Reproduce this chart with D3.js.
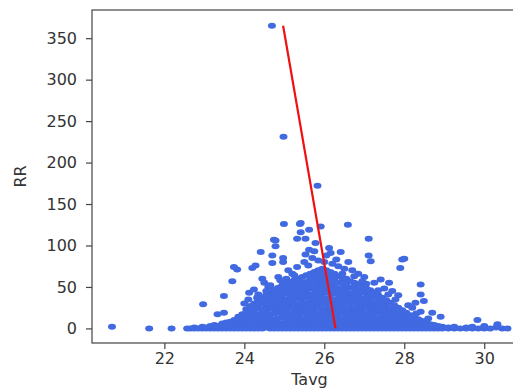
<!DOCTYPE html>
<html>
<head>
<meta charset="utf-8">
<script src="https://cdn.jsdelivr.net/npm/d3@7"></script>
<style>
  body { margin: 0; background: #fff; }
  svg { display: block; }
  text { font-family: "DejaVu Sans", sans-serif; }
</style>
</head>
<body>
<svg id="chart" width="513" height="390"></svg>
<script>
// tick labels
const xTicks = [22, 24, 26, 28, 30];
const yTicks = [0, 50, 100, 150, 200, 250, 300, 350];

// dense part of the cloud, read column by column (Tavg -> RR values)
const colTavg = [22.65, 22.75, 22.85, 22.95, 23.05, 23.15, 23.25, 23.35, 23.45, 23.55,
  23.65, 23.75, 23.85, 23.95, 24.05, 24.15, 24.25, 24.35, 24.45, 24.55,
  24.65, 24.75, 24.85, 24.95, 25.05, 25.15, 25.25, 25.35, 25.45, 25.55,
  25.65, 25.75, 25.85, 25.95, 26.05, 26.15, 26.25, 26.35, 26.45, 26.55,
  26.65, 26.75, 26.85, 26.95, 27.05, 27.15, 27.25, 27.35, 27.45, 27.55,
  27.65, 27.75, 27.85, 27.95, 28.05, 28.15, 28.25, 28.35, 28.45, 28.55,
  28.65, 28.75, 28.85, 28.95, 29.1, 29.25, 29.4, 29.55, 29.7, 29.85,
  30.0, 30.15, 30.3, 30.45];
const colRR = [
  [0], [0, 1], [0], [0, 2], [0, 1], [0, 3], [0, 2, 4], [0, 3], [0, 2, 6], [0, 4, 7],
  [0, 3, 8], [0, 5, 10], [0, 4, 9, 14], [0, 5, 11, 17], [0, 6, 12, 19, 23],
  [0, 5, 11, 16, 22, 27], [0, 6, 13, 18, 24, 30], [0, 5, 11, 17, 24, 29, 34],
  [0, 6, 12, 18, 23, 30, 37], [1, 7, 13, 19, 25, 31, 36, 41],
  [0, 6, 12, 17, 24, 29, 35, 40, 45], [0, 5, 11, 18, 24, 30, 36, 42, 47],
  [0, 6, 12, 19, 25, 31, 37, 43, 49], [0, 6, 13, 18, 24, 30, 36, 41, 47, 52],
  [0, 5, 11, 17, 23, 29, 35, 42, 48, 54], [0, 6, 12, 18, 25, 31, 37, 43, 49, 56],
  [0, 6, 12, 18, 24, 30, 36, 42, 48, 53, 58], [0, 5, 11, 17, 23, 29, 36, 42, 48, 54, 60],
  [0, 6, 12, 19, 25, 31, 37, 43, 49, 55, 62], [0, 6, 12, 18, 24, 30, 37, 43, 49, 56, 64],
  [0, 5, 11, 17, 23, 29, 35, 41, 48, 54, 60, 66], [0, 6, 12, 18, 24, 30, 36, 42, 48, 55, 61, 68],
  [0, 6, 12, 18, 25, 31, 37, 43, 50, 56, 63, 70], [0, 5, 11, 17, 23, 30, 36, 42, 48, 54, 60, 66, 72],
  [0, 6, 12, 18, 24, 30, 36, 43, 49, 55, 62, 70], [0, 6, 12, 18, 24, 31, 37, 43, 49, 56, 62, 68],
  [0, 5, 11, 17, 23, 29, 35, 42, 48, 54, 60, 66], [0, 6, 12, 18, 24, 30, 36, 42, 48, 55, 63],
  [0, 6, 12, 19, 25, 31, 37, 43, 49, 56, 61], [0, 5, 11, 17, 23, 30, 36, 42, 48, 54, 60],
  [0, 6, 12, 18, 24, 30, 36, 42, 49, 57], [0, 6, 12, 18, 24, 31, 37, 43, 49, 55],
  [0, 5, 11, 17, 23, 29, 35, 41, 47, 53], [0, 6, 12, 18, 24, 30, 36, 43, 50],
  [0, 6, 12, 18, 25, 31, 37, 43, 48], [0, 5, 11, 17, 23, 29, 35, 41, 46],
  [0, 6, 12, 18, 24, 30, 37, 43], [0, 6, 12, 19, 25, 31, 36, 40],
  [0, 5, 11, 17, 23, 29, 33, 37], [0, 6, 12, 18, 24, 30, 34],
  [0, 6, 12, 18, 24, 31], [0, 5, 11, 17, 23, 28], [0, 6, 12, 18, 25], [0, 6, 12, 17, 22],
  [0, 5, 11, 15, 19], [0, 6, 11, 16], [0, 5, 9, 13], [0, 5, 11], [0, 4, 9], [0, 4, 7],
  [0, 3, 5], [0, 2, 4], [0, 3], [0, 2], [0, 1], [0, 2], [0], [0, 1], [0, 2], [0],
  [0, 3], [0], [1], [0]
];

// scattered points outside the dense cloud
const outTavg = [20.69, 21.62, 22.18, 22.57, 24.69, 24.98, 25.83,
  24.99, 25.39, 24.78, 24.78, 24.41, 24.70, 24.70, 24.97, 24.97, 25.32, 23.74, 23.82,
  24.20, 24.28, 23.70, 24.45, 24.50, 23.49, 22.97, 23.33, 23.49, 24.12, 24.24, 24.32,
  25.41, 25.62, 25.53, 25.41, 25.91, 26.59, 27.11, 25.62, 25.53, 25.78, 26.12, 26.16,
  26.41, 27.11, 27.16, 25.32, 27.90, 27.41, 27.62, 28.00, 27.95, 28.41, 28.41, 28.28,
  28.49, 27.78, 28.41, 28.70, 28.91, 29.83, 30.33, 30.58,
  24.00, 24.10, 24.60, 24.55, 24.85, 25.10, 25.20, 25.05, 25.50, 25.60, 25.70, 25.85,
  26.00, 26.20, 26.35, 26.50, 26.70, 26.85, 27.00, 27.25, 27.50, 27.70, 27.85, 28.10,
  28.20, 26.05, 26.30, 25.75, 26.60, 24.74,
  26.45, 26.75, 26.95, 27.05, 27.35, 27.60, 24.35, 24.65, 24.90, 25.25, 28.30, 28.60];
const outRR = [2, 0, 0, 0, 365, 231, 172,
  126, 126, 106, 99, 92, 88, 79, 85, 80, 108, 74, 71,
  73, 76, 57, 60, 55, 39, 29, 17, 19, 43, 47, 37,
  127, 119, 108, 116, 123, 125, 108, 95, 89, 103, 97, 91,
  92, 88, 81, 74, 73, 59, 55, 84, 83, 53, 41, 31,
  33, 35, 20, 19, 14, 10, 5, 0,
  30, 35, 50, 45, 62, 70, 66, 60, 80, 76, 85, 82,
  80, 78, 75, 72, 70, 66, 62, 55, 48, 45, 40, 28,
  25, 88, 83, 93, 80, 107,
  66, 63, 57, 54, 46, 41, 41, 52, 58, 64, 18, 12];

// fitted red line end points
const lineTavg = [24.97, 26.28];
const lineRR = [365, 0];

const svg = d3.select("#chart");

const x = d3.scaleLinear().domain([20.19, 31.07]).range([92, 527]);
const y = d3.scaleLinear().domain([-17.6, 384]).range([343, 10]);

// gather points
const pts = [];
colTavg.forEach((t, i) => colRR[i].forEach(r => pts.push([t, r])));
outTavg.forEach((t, i) => pts.push([t, outRR[i]]));

svg.append("g")
  .selectAll("ellipse")
  .data(pts)
  .join("ellipse")
  .attr("cx", d => x(d[0]))
  .attr("cy", d => y(d[1]))
  .attr("rx", 4)
  .attr("ry", 3)
  .attr("fill", "royalblue");

// red line
svg.append("path")
  .datum(lineTavg.map((t, i) => [t, lineRR[i]]))
  .attr("d", d3.line().x(d => x(d[0])).y(d => y(d[1])))
  .attr("fill", "none")
  .attr("stroke", "#f01010")
  .attr("stroke-width", 2.2);

// spines
svg.append("rect")
  .attr("x", x.range()[0])
  .attr("y", y.range()[1])
  .attr("width", x.range()[1] - x.range()[0])
  .attr("height", y.range()[0] - y.range()[1])
  .attr("fill", "none")
  .attr("stroke", "#444")
  .attr("stroke-width", 1.2);

// axes
const xAxis = svg.append("g")
  .attr("transform", `translate(0,${y.range()[0]})`)
  .call(d3.axisBottom(x).tickValues(xTicks).tickFormat(d3.format("d")).tickSize(6).tickPadding(4));
const yAxis = svg.append("g")
  .attr("transform", `translate(${x.range()[0]},0)`)
  .call(d3.axisLeft(y).tickValues(yTicks).tickFormat(d3.format("d")).tickSize(6).tickPadding(9));

[xAxis, yAxis].forEach(g => {
  g.select(".domain").remove();
  g.selectAll(".tick line").attr("stroke", "#444").attr("stroke-width", 1.2);
  g.selectAll(".tick text")
    .attr("fill", "#333")
    .style("font-size", "16px")
    .style("font-family", "'DejaVu Sans', sans-serif");
});

// axis titles
svg.append("text")
  .attr("x", (x.range()[0] + x.range()[1]) / 2)
  .attr("y", 385)
  .attr("text-anchor", "middle")
  .attr("fill", "#333")
  .style("font-size", "16px")
  .text("Tavg");

svg.append("text")
  .attr("transform", `translate(26,${(y.range()[0] + y.range()[1]) / 2}) rotate(-90)`)
  .attr("text-anchor", "middle")
  .attr("fill", "#333")
  .style("font-size", "16px")
  .text("RR");
</script>
</body>
</html>
